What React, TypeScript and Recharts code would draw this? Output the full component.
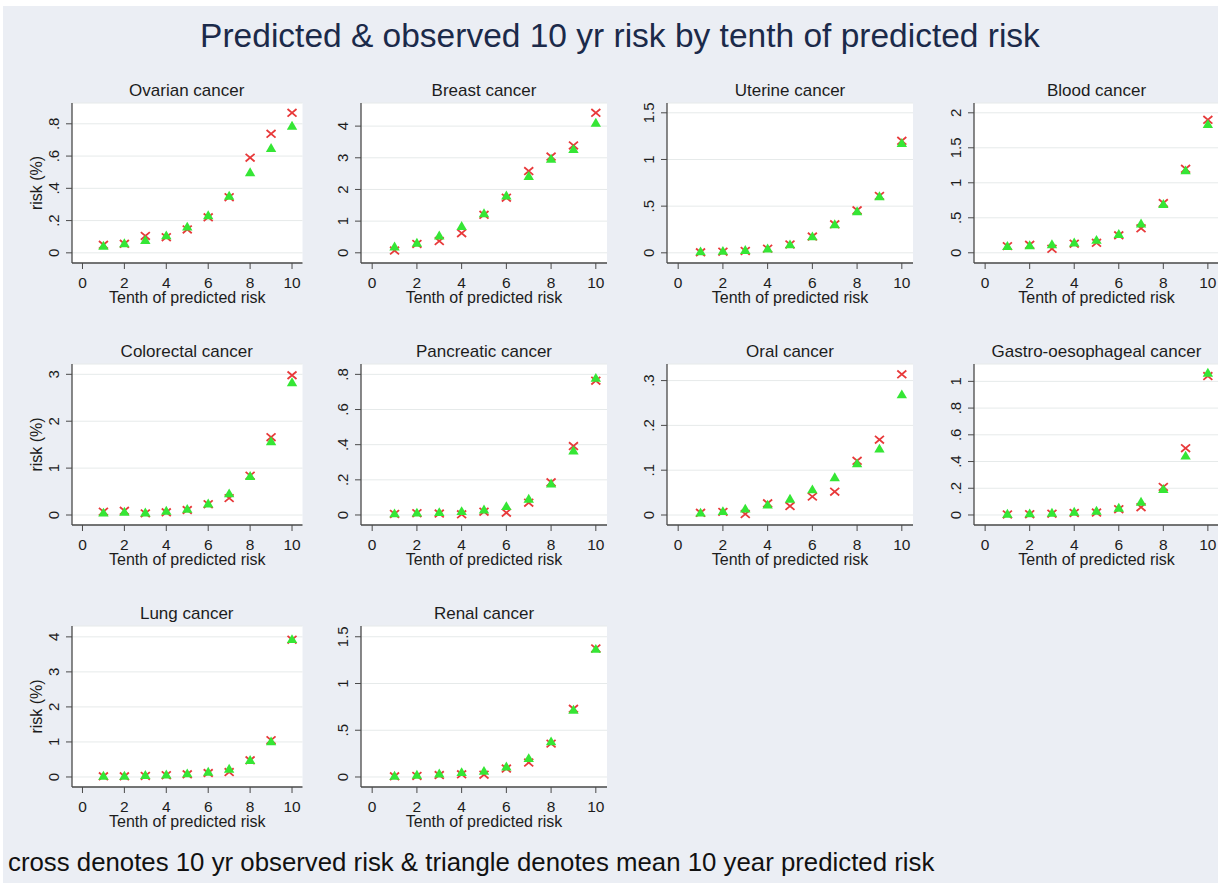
import React from "react";
import { CartesianGrid, Scatter, ScatterChart, XAxis, YAxis } from "recharts";

const tenths = [1, 2, 3, 4, 5, 6, 7, 8, 9, 10];
const xTicks = [0, 2, 4, 6, 8, 10];

// observed 10 yr risk (cross) and mean predicted 10 yr risk (triangle), in %
const ovarianObserved = [0.05, 0.056, 0.105, 0.097, 0.145, 0.22, 0.345, 0.59, 0.738, 0.868];
const ovarianPredicted = [0.041, 0.056, 0.076, 0.105, 0.159, 0.23, 0.351, 0.496, 0.647, 0.785];
const breastObserved = [0.07, 0.28, 0.37, 0.62, 1.2, 1.74, 2.58, 3.04, 3.39, 4.42];
const breastPredicted = [0.18, 0.3, 0.53, 0.83, 1.23, 1.79, 2.41, 2.95, 3.26, 4.09];
const uterineObserved = [0.005, 0.012, 0.02, 0.045, 0.09, 0.175, 0.305, 0.455, 0.61, 1.2];
const uterinePredicted = [0.01, 0.015, 0.025, 0.04, 0.085, 0.17, 0.3, 0.44, 0.6, 1.17];
const bloodObserved = [0.095, 0.114, 0.057, 0.13, 0.143, 0.25, 0.35, 0.71, 1.2, 1.9];
const bloodPredicted = [0.09, 0.1, 0.114, 0.138, 0.176, 0.26, 0.41, 0.69, 1.17, 1.83];
const colorectalObserved = [0.07, 0.09, 0.035, 0.057, 0.107, 0.23, 0.36, 0.84, 1.66, 2.98];
const colorectalPredicted = [0.04, 0.057, 0.043, 0.078, 0.12, 0.235, 0.45, 0.82, 1.56, 2.82];
const pancreaticObserved = [0.006, 0.01, 0.008, 0.004, 0.019, 0.013, 0.07, 0.186, 0.392, 0.764];
const pancreaticPredicted = [0.006, 0.01, 0.013, 0.019, 0.028, 0.047, 0.089, 0.176, 0.364, 0.777];
const oralObserved = [0.005, 0.007, 0.002, 0.026, 0.02, 0.041, 0.052, 0.121, 0.168, 0.314];
const oralPredicted = [0.004, 0.0075, 0.013, 0.022, 0.035, 0.056, 0.083, 0.114, 0.147, 0.268];
const gastroObserved = [0.004, 0.006, 0.01, 0.015, 0.018, 0.043, 0.058, 0.21, 0.5, 1.04];
const gastroPredicted = [0.005, 0.008, 0.013, 0.02, 0.028, 0.05, 0.095, 0.19, 0.44, 1.06];
const lungObserved = [0.02, 0.02, 0.03, 0.05, 0.076, 0.114, 0.14, 0.476, 1.05, 3.92];
const lungPredicted = [0.02, 0.02, 0.04, 0.057, 0.086, 0.133, 0.22, 0.47, 1.0, 3.92];
const renalObserved = [0.007, 0.011, 0.021, 0.029, 0.025, 0.09, 0.154, 0.357, 0.73, 1.375];
const renalPredicted = [0.007, 0.018, 0.032, 0.046, 0.06, 0.107, 0.196, 0.375, 0.714, 1.364];

const panelTitles = [
  "Ovarian cancer",
  "Breast cancer",
  "Uterine cancer",
  "Blood cancer",
  "Colorectal cancer",
  "Pancreatic cancer",
  "Oral cancer",
  "Gastro-oesophageal cancer",
  "Lung cancer",
  "Renal cancer",
];
const observedSeries = [
  ovarianObserved, breastObserved, uterineObserved, bloodObserved, colorectalObserved,
  pancreaticObserved, oralObserved, gastroObserved, lungObserved, renalObserved,
];
const predictedSeries = [
  ovarianPredicted, breastPredicted, uterinePredicted, bloodPredicted, colorectalPredicted,
  pancreaticPredicted, oralPredicted, gastroPredicted, lungPredicted, renalPredicted,
];
const yTickSets = [
  [0, 0.2, 0.4, 0.6, 0.8],
  [0, 1, 2, 3, 4],
  [0, 0.5, 1, 1.5],
  [0, 0.5, 1, 1.5, 2],
  [0, 1, 2, 3],
  [0, 0.2, 0.4, 0.6, 0.8],
  [0, 0.1, 0.2, 0.3],
  [0, 0.2, 0.4, 0.6, 0.8, 1],
  [0, 1, 2, 3, 4],
  [0, 0.5, 1, 1.5],
];
const yDomains = [
  [-0.063, 0.929],
  [-0.322, 4.73],
  [-0.109, 1.605],
  [-0.146, 2.14],
  [-0.213, 3.22],
  [-0.057, 0.859],
  [-0.0223, 0.337],
  [-0.075, 1.13],
  [-0.286, 4.31],
  [-0.107, 1.615],
];

// plot region edges (page px)
const colLeft = [71.5, 361, 667, 974];
const colRight = [302, 607, 913, 1219];
const rowTop = [102.5, 364, 626];
const rowBottom = [262.5, 525, 787];

const FONT = '"Liberation Sans", Arial, sans-serif';
const AXIS = "#4a4a4a";
const TEXT = "#1c1c1c";

const fmt = (v: number) => (v === 0 ? "0" : String(v).replace(/^0\./, "."));

const YTick = ({ x, y, payload }: any) => (
  <text
    x={x}
    y={y}
    transform={`rotate(-90 ${x} ${y})`}
    textAnchor="middle"
    dy="0.36em"
    fill={TEXT}
    fontSize={15}
    fontFamily={FONT}
  >
    {fmt(payload.value)}
  </text>
);

const Cross = ({ cx, cy }: any) => (
  <path
    d={`M${cx - 4.5},${cy - 3.8}L${cx + 4.5},${cy + 3.8}M${cx - 4.5},${cy + 3.8}L${cx + 4.5},${cy - 3.8}`}
    stroke="#e8393a"
    strokeWidth={1.8}
    fill="none"
  />
);

const Triangle = ({ cx, cy }: any) => (
  <path d={`M${cx},${cy - 5.5}L${cx + 5.2},${cy + 3.4}L${cx - 5.2},${cy + 3.4}Z`} fill="#35e635" />
);

function Panel({ index }: { index: number }) {
  const col = index % 4;
  const row = Math.floor(index / 4);
  const plotW = colRight[col] - colLeft[col];
  const plotH = rowBottom[row] - rowTop[row];
  const left = colLeft[col] - 65;
  const top = rowTop[row] - 30;
  const obs = tenths.map((t, i) => ({ x: t, y: observedSeries[index][i] }));
  const pred = tenths.map((t, i) => ({ x: t, y: predictedSeries[index][i] }));

  return (
    <>
      <div
        style={{
          position: "absolute",
          left: colLeft[col] + plotW / 2,
          top: rowTop[row] - 22,
          transform: "translateX(-50%)",
          whiteSpace: "nowrap",
          fontFamily: FONT,
          fontSize: 17,
          lineHeight: "20px",
          color: TEXT,
        }}
      >
        {panelTitles[index]}
      </div>
      <div style={{ position: "absolute", left, top }}>
        <ScatterChart
          width={plotW + 70}
          height={plotH + 75}
          margin={{ top: 30, right: 5, bottom: 5, left: 0 }}
        >
          <CartesianGrid vertical={false} fill="#ffffff" stroke="#e6eaea" />
          <XAxis
            dataKey="x"
            type="number"
            domain={[-0.5, 10.5]}
            ticks={xTicks}
            interval={0}
            allowDataOverflow
            height={40}
            tickSize={6}
            tickMargin={8}
            axisLine={{ stroke: AXIS, strokeWidth: 1.3 }}
            tickLine={{ stroke: AXIS }}
            tick={{ fill: TEXT, fontSize: 15.5, fontFamily: FONT }}
            label={{
              value: "Tenth of predicted risk",
              position: "insideBottom",
              offset: 0,
              fill: TEXT,
              fontSize: 16,
              fontFamily: FONT,
            }}
          />
          <YAxis
            dataKey="y"
            type="number"
            domain={yDomains[index]}
            ticks={yTickSets[index]}
            interval={0}
            allowDataOverflow
            width={65}
            tickSize={6}
            tickMargin={12}
            axisLine={{ stroke: AXIS, strokeWidth: 1.3 }}
            tickLine={{ stroke: AXIS }}
            tick={<YTick />}
            label={
              col === 0
                ? {
                    value: "risk (%)",
                    angle: -90,
                    position: "insideLeft",
                    offset: 29,
                    fill: TEXT,
                    fontSize: 16,
                    fontFamily: FONT,
                    style: { textAnchor: "middle" },
                  }
                : undefined
            }
          />
          <Scatter data={obs} shape={<Cross />} isAnimationActive={false} />
          <Scatter data={pred} shape={<Triangle />} isAnimationActive={false} />
        </ScatterChart>
      </div>
    </>
  );
}

export default function App() {
  return (
    <div
      style={{
        position: "relative",
        width: 1218,
        height: 883,
        overflow: "hidden",
        background: "#ffffff",
        fontFamily: FONT,
      }}
    >
      <style>{"body{margin:0}"}</style>
      <div
        style={{
          position: "absolute",
          left: 3,
          top: 6,
          right: 0,
          bottom: 0,
          background: "#ebeef4",
        }}
      />
      <div
        style={{
          position: "absolute",
          left: 620,
          top: 16,
          transform: "translateX(-50%)",
          whiteSpace: "nowrap",
          fontSize: 33.5,
          lineHeight: "40px",
          color: "#1b2a4a",
        }}
      >
        Predicted &amp; observed 10 yr risk by tenth of predicted risk
      </div>
      {panelTitles.map((_, i) => (
        <Panel key={i} index={i} />
      ))}
      <div
        style={{
          position: "absolute",
          left: 8,
          top: 847,
          whiteSpace: "nowrap",
          fontSize: 25.8,
          lineHeight: "30px",
          color: "#111111",
        }}
      >
        cross denotes 10 yr observed risk &amp; triangle denotes mean 10 year predicted risk
      </div>
    </div>
  );
}
